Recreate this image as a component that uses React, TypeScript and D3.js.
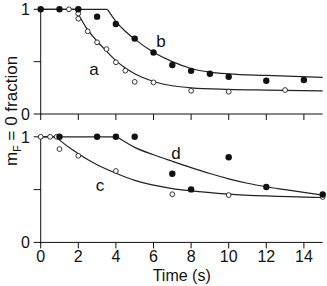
import * as d3 from 'd3';

// time axis
const timeTicks = [0, 2, 4, 6, 8, 10, 12, 14];
const fracTicks = [0, 0.5, 1];
const fracLabels = ['0', '', '1'];

// top panel: a (open) and b (filled)
const aPoints: [number, number][] = [
  [1.5, 1], [2, 0.96], [2, 0.91], [2.5, 0.79], [3, 0.685], [3.5, 0.62], [4, 0.494],
  [4.5, 0.414], [5, 0.307], [6, 0.302], [8, 0.222], [10, 0.213], [13, 0.229],
];
const bPoints: [number, number][] = [
  [0, 1], [1, 1], [2, 1], [3, 0.93], [4, 0.86], [5, 0.72], [6, 0.588], [7, 0.468],
  [8, 0.412], [9, 0.385], [10, 0.356], [12, 0.318], [14, 0.325],
];
const aFit: [number, number][] = [
  [0, 1], [1.86, 1], [2.4, 0.83], [3, 0.695], [3.5, 0.6], [4, 0.51], [4.5, 0.44],
  [5, 0.385], [6, 0.31], [7, 0.27], [8, 0.25], [10, 0.235], [12, 0.228], [15, 0.22],
];
const bFit: [number, number][] = [
  [0, 1], [3.55, 1], [4, 0.885], [4.5, 0.79], [5, 0.715], [6, 0.59], [7, 0.5],
  [8, 0.435], [9, 0.4], [10, 0.383], [12, 0.368], [15, 0.35],
];

// bottom panel: c (open) and d (filled)
const cPoints: [number, number][] = [
  [0, 1], [0.5, 1], [0.85, 1], [1, 0.884], [2, 0.82], [4, 0.676], [7, 0.456],
  [10, 0.448], [15, 0.43],
];
const dPoints: [number, number][] = [
  [1, 1], [3, 1], [4, 1], [5, 1], [7, 0.65], [8, 0.502], [10, 0.806], [12, 0.525], [15, 0.453],
];
const cFit: [number, number][] = [
  [0, 1], [0.8, 1], [1.5, 0.9], [2, 0.84], [3, 0.735], [4, 0.655], [5, 0.588], [6, 0.543],
  [7, 0.51], [8, 0.488], [10, 0.458], [12, 0.44], [15, 0.425],
];
const dFit: [number, number][] = [
  [0, 1], [4.05, 1], [5, 0.9], [6, 0.83], [7, 0.768], [8, 0.708], [9, 0.652], [10, 0.602],
  [11, 0.56], [12, 0.527], [13, 0.5], [15, 0.448],
];

// curve labels [text, time, fraction]
const topLabels: [string, number, number][] = [['a', 2.84, 0.372], ['b', 6.4, 0.643]];
const bottomLabels: [string, number, number][] = [['c', 3.15, 0.489], ['d', 7.2, 0.787]];

const W = 327;
const H = 286;
const font = '"Liberation Sans", Arial, Helvetica, sans-serif';

const x = d3.scaleLinear().domain([0, 15]).range([40.7, 322.7]);

function Panel({ y, open, filled, openFit, filledFit, labels, showTickLabels }: {
  y: d3.ScaleLinear<number, number>;
  open: [number, number][];
  filled: [number, number][];
  openFit: [number, number][];
  filledFit: [number, number][];
  labels: [string, number, number][];
  showTickLabels: boolean;
}) {
  const [y0, y1] = [y(0), y(1)];

  // flat part straight, decay part smooth so the corner stays sharp
  const flatLine = d3.line<[number, number]>().x(d => x(d[0])).y(d => y(d[1]));
  const decayLine = d3.line<[number, number]>()
    .x(d => x(d[0])).y(d => y(d[1]))
    .curve(d3.curveMonotoneX);
  const splitFit = (fit: [number, number][]) => {
    const k = fit.findIndex(d => d[1] < 1);
    return [flatLine(fit.slice(0, k)), decayLine(fit.slice(k - 1))];
  };

  return (
    <g>
      {/* axes */}
      <line x1={x(0)} x2={x(0)} y1={y1} y2={y0 + 1} stroke="#111" strokeWidth={1} />
      <line x1={x(0)} x2={x(15)} y1={y0} y2={y0} stroke="#111" strokeWidth={1} />
      {fracTicks.map((t, i) => (
        <g key={'yt' + t}>
          <line x1={x(0) - 7} x2={x(0)} y1={y(t)} y2={y(t)} stroke="#111" strokeWidth={1} />
          {fracLabels[i] && (
            <text x={30} y={y(t)} dy="0.36em" textAnchor="end" fontSize={16} fontFamily={font} fill="#111">
              {fracLabels[i]}
            </text>
          )}
        </g>
      ))}
      {timeTicks.map(t => (
        <g key={'xt' + t}>
          <line x1={x(t)} x2={x(t)} y1={y0} y2={y0 + 6} stroke="#111" strokeWidth={1} />
          {showTickLabels && (
            <text x={x(t)} y={y0 + 20} textAnchor="middle" fontSize={16} fontFamily={font} fill="#111">
              {t}
            </text>
          )}
        </g>
      ))}

      {/* fits */}
      {[openFit, filledFit].map((fit, i) =>
        splitFit(fit).map((p, j) => (
          <path key={`f${i}${j}`} d={p ?? ''} fill="none" stroke="#222" strokeWidth={1.2} />
        ))
      )}

      {/* data */}
      {open.map((d, i) => (
        <circle key={'o' + i} cx={x(d[0])} cy={y(d[1])} r={2.4} fill="#fff" stroke="#222" strokeWidth={0.9} />
      ))}
      {filled.map((d, i) => (
        <circle key={'c' + i} cx={x(d[0])} cy={y(d[1])} r={3.2} fill="#111" />
      ))}

      {labels.map(([s, t, v]) => (
        <text key={s} x={x(t)} y={y(v)} textAnchor="middle" fontSize={17} fontFamily={font} fill="#111">
          {s}
        </text>
      ))}
    </g>
  );
}

export default function App() {
  const yTop = d3.scaleLinear().domain([0, 1]).range([114, 9.3]);
  const yBottom = d3.scaleLinear().domain([0, 1]).range([242.4, 136.8]);

  return (
    <svg width={W} height={H} style={{ position: 'absolute', left: 0, top: 0, background: '#fff' }}>
      <Panel y={yTop} open={aPoints} filled={bPoints} openFit={aFit} filledFit={bFit}
        labels={topLabels} showTickLabels={false} />
      <Panel y={yBottom} open={cPoints} filled={dPoints} openFit={cFit} filledFit={dFit}
        labels={bottomLabels} showTickLabels={true} />

      <text x={x(7.5)} y={281} textAnchor="middle" fontSize={16} fontFamily={font} fill="#111">
        Time (s)
      </text>
      <text transform="translate(17,111) rotate(-90)" textAnchor="middle" fontSize={17} fontFamily={font} fill="#111">
        m<tspan fontSize={11} dy={4}>F</tspan><tspan dy={-4}> = 0 fraction</tspan>
      </text>
    </svg>
  );
}
